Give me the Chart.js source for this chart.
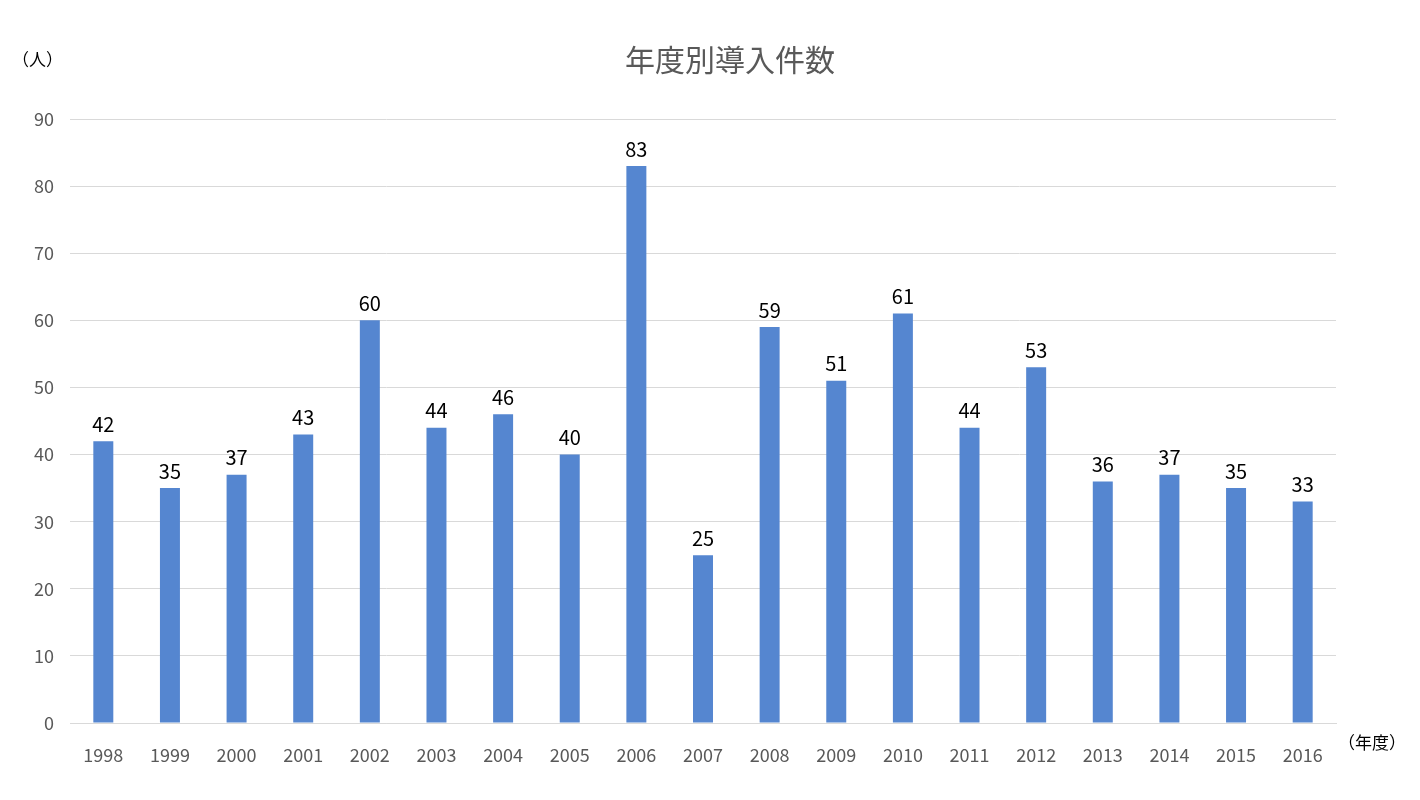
<!DOCTYPE html>
<html><head><meta charset="utf-8">
<script src="https://cdn.jsdelivr.net/npm/chart.js@4"></script>
<style>html,body{margin:0;background:#fff}#w{width:1420px;height:800px}</style>
</head><body><div id="w"><canvas id="c"></canvas></div>
<script>
const years=["1998","1999","2000","2001","2002","2003","2004","2005","2006","2007","2008","2009","2010","2011","2012","2013","2014","2015","2016"];
const counts=[42,35,37,43,60,44,46,40,83,25,59,51,61,44,53,36,37,35,33];
const titleText="年度別導入件数";
const yUnit="（人）";
const xUnit="（年度）";
const F='"Noto Sans CJK JP","Noto Sans",sans-serif';
const deco={id:'deco',afterDatasetsDraw(ch){
  const c=ch.ctx;c.save();
  const m=ch.getDatasetMeta(0);
  c.fillStyle='#000';c.font='20px '+F;c.textAlign='center';c.textBaseline='bottom';
  m.data.forEach((b,i)=>c.fillText(counts[i],b.x,b.y-7));
  c.fillStyle='#595959';c.font='30px '+F;c.textBaseline='middle';
  c.fillText(titleText,730,60);
  c.font='17px '+F;c.textAlign='left';c.fillStyle='#000';
  c.fillText(yUnit,12,60);
  c.fillText(xUnit,1338,743);
  c.restore();}};
new Chart(document.getElementById('c'),{type:'bar',
data:{labels:years,datasets:[{data:counts,backgroundColor:'#5586D0',barPercentage:0.3,categoryPercentage:1}]},
options:{responsive:true,maintainAspectRatio:false,animation:false,
layout:{padding:{top:119,right:84,left:0,bottom:0}},
plugins:{legend:{display:false},tooltip:{enabled:false}},
scales:{
 y:{min:0,max:90,ticks:{stepSize:10,color:'#595959',font:{size:18,family:F},padding:16},
  grid:{color:'#d9d9d9',drawTicks:false},border:{display:false},afterFit(s){s.width=70;}},
 x:{grid:{display:false},border:{color:'#d9d9d9'},ticks:{color:'#595959',font:{size:18,family:F},padding:13},afterFit(s){s.height=77;}}
}},plugins:[deco]});
</script></body></html>
